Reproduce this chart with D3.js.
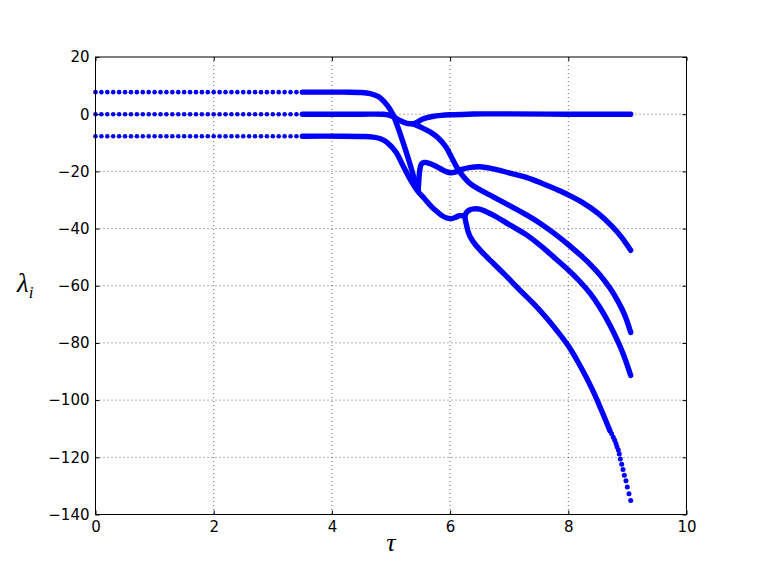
<!DOCTYPE html>
<html lang="en">
<head>
<meta charset="utf-8">
<title>Eigenvalues vs tau</title>
<script src="https://d3js.org/d3.v7.min.js"></script>
<style>
  body { margin: 0; background: #fff; }
  .axis text { font-family: "DejaVu Sans", sans-serif; font-size: 15px; fill: #000; }
  .axis line { stroke: #000; }
  .label { font-family: "Liberation Serif", "DejaVu Serif", serif; font-style: italic; fill: #000; }
</style>
</head>
<body>
<script>
var w = 763, h = 572;
var margin = {top: 57, right: 76.5, bottom: 57.5, left: 95.5};

// tick values
var xTicks = [0, 2, 4, 6, 8, 10];
var yTicks = [20, 0, -20, -40, -60, -80, -100, -120, -140];

// coarse sampling at the start (three eigenvalues, constant)
var flatTau = [0, 0.1, 0.2, 0.3, 0.4, 0.5, 0.6, 0.7, 0.8, 0.9, 1.0, 1.1, 1.2, 1.3, 1.4, 1.5, 1.6,
               1.7, 1.8, 1.9, 2.0, 2.1, 2.2, 2.3, 2.4, 2.5, 2.6, 2.7, 2.8, 2.9, 3.0, 3.1, 3.2, 3.3, 3.4];
var flatLevels = [7.7, 0, -7.7];

// fine sampling
var upperTau = [3.5, 4.2, 4.5, 4.65, 4.78, 4.88, 4.96, 5.03, 5.1, 5.2, 5.3, 5.38, 5.46];
var upperLam = [7.7, 7.7, 7.6, 7.2, 6.2, 4.5, 2.4, 0.0, -3.6, -9.6, -16.0, -21.6, -26.9];

var zeroTau = [3.5, 4.5, 4.85, 4.95, 5.05, 5.15, 5.27, 5.38];
var zeroLam = [0, 0, 0, -0.2, -1.0, -2.2, -3.2, -3.4];

var zeroBackTau = [5.38, 5.46, 5.55, 5.7, 5.85, 6.0, 6.3, 6.6, 7.0, 8.0, 9.056];
var zeroBackLam = [-3.4, -2.6, -1.6, -0.8, -0.4, -0.2, 0.0, 0.1, 0.1, 0, 0];

var lowerTau = [3.5, 4.2, 4.5, 4.7, 4.81, 4.9, 4.98, 5.04, 5.1, 5.21, 5.32, 5.46, 5.56, 5.66,
                5.75, 5.85, 5.93, 6.03, 6.1, 6.16, 6.24];
var lowerLam = [-7.7, -7.7, -7.8, -8.0, -8.5, -9.4, -10.8, -12.1, -13.8, -18.3, -22.6, -27.1, -29.4, -31.8,
                -33.6, -35.3, -36.2, -36.5, -36.0, -35.5, -35.6];

var cuspTau = [5.46, 5.47, 5.485, 5.51, 5.56, 5.65, 5.78, 5.9, 6.0, 6.1, 6.2, 6.35, 6.5, 6.75,
               7.01, 7.3, 7.58, 7.8, 8.0, 8.25, 8.5, 8.75, 8.9, 9.056];
var cuspLam = [-26.9, -23.5, -19.8, -17.6, -16.9, -17.2, -18.4, -19.8, -20.5, -20.2, -19.3, -18.6, -18.4, -19.2,
               -20.6, -22.2, -24.4, -26.3, -28.2, -31.0, -34.6, -39.4, -43.0, -47.6];

var midTau = [5.38, 5.5, 5.66, 5.8, 5.93, 6.03, 6.12, 6.2, 6.34, 6.5, 6.73, 7.0, 7.3, 7.52,
              7.75, 8.0, 8.2, 8.37, 8.54, 8.71, 8.85, 8.95, 9.056];
var midLam = [-3.4, -4.5, -6.2, -8.3, -11.5, -15.3, -18.8, -21.2, -24.3, -26.4, -28.9, -31.9, -35.3, -38.1,
              -41.5, -45.6, -49.2, -52.5, -56.3, -61.0, -65.8, -70.0, -76.3];

var loopUpTau = [6.25, 6.28, 6.33, 6.4, 6.5, 6.6, 6.73, 7.0, 7.3, 7.52, 7.75, 8.0, 8.2, 8.37,
                 8.54, 8.71, 8.85, 8.95, 9.056];
var loopUpLam = [-35.6, -34.3, -33.5, -33.1, -33.2, -34.0, -35.3, -38.6, -42.3, -45.8, -49.9, -54.5, -58.6, -62.7,
                 -67.8, -74.0, -80.0, -85.0, -91.4];

var loopDownTau = [6.25, 6.26, 6.28, 6.31, 6.36, 6.42, 6.52, 6.62, 6.9, 7.18, 7.4, 7.6, 7.8, 8.0,
                   8.2, 8.4, 8.55, 8.706];
var loopDownLam = [-35.6, -37.2, -39.0, -41.4, -43.6, -45.4, -47.8, -49.9, -55.6, -61.5, -66.0, -70.5, -75.5, -81.0,
                   -88.0, -96.0, -103.0, -110.8];

// separated dots at the steep end of the lowest branch
var tailTau = [8.734, 8.761, 8.785, 8.807, 8.824, 8.846, 8.863, 8.880, 8.904, 8.926, 8.948, 8.976, 8.998, 9.027, 9.056];
var tailLam = [-111.8, -113.0, -114.0, -115.2, -116.3, -117.4, -118.8, -120.6, -122.4, -124.3, -126.3, -128.2, -130.4, -132.7, -135.1];

var branches = [
  [upperTau, upperLam], [zeroTau, zeroLam], [zeroBackTau, zeroBackLam],
  [lowerTau, lowerLam], [cuspTau, cuspLam], [midTau, midLam],
  [loopUpTau, loopUpLam], [loopDownTau, loopDownLam]
];

var blue = "#0000ff";

var svg = d3.select("body").append("svg")
    .attr("width", w)
    .attr("height", h);

svg.append("rect")
    .attr("width", w).attr("height", h)
    .attr("fill", "#fff");

var x = d3.scaleLinear().domain([0, 10]).range([margin.left, w - margin.right]);
var y = d3.scaleLinear().domain([-140, 20]).range([h - margin.bottom, margin.top]);

var line = d3.line()
    .x(function(d) { return x(d[0]); })
    .y(function(d) { return y(d[1]); })
    .curve(d3.curveCatmullRom.alpha(0.5));

var gData = svg.append("g");

// dense part drawn as thick strokes
gData.selectAll("path.branch")
  .data(branches)
  .enter()
  .append("path")
    .attr("class", "branch")
    .attr("fill", "none")
    .attr("stroke", blue)
    .attr("stroke-width", 5.4)
    .attr("stroke-linecap", "round")
    .attr("stroke-linejoin", "round")
    .attr("d", function(b) { return line(d3.zip(b[0], b[1])); });

// coarse dots
flatLevels.forEach(function(lev) {
  gData.selectAll(null)
    .data(flatTau)
    .enter()
    .append("circle")
      .attr("cx", function(d) { return x(d); })
      .attr("cy", y(lev))
      .attr("r", 2.3)
      .attr("fill", blue);
});

gData.selectAll(null)
  .data(d3.zip(tailTau, tailLam))
  .enter()
  .append("circle")
    .attr("cx", function(d) { return x(d[0]); })
    .attr("cy", function(d) { return y(d[1]); })
    .attr("r", 2.5)
    .attr("fill", blue);

// grid (drawn over the data, like the original)
var gGrid = svg.append("g")
    .attr("stroke", "#000")
    .attr("stroke-width", 0.6)
    .attr("stroke-dasharray", "1,3");

gGrid.selectAll("line.gx")
  .data(xTicks.slice(1, -1))
  .enter()
  .append("line")
    .attr("x1", function(d) { return x(d); })
    .attr("x2", function(d) { return x(d); })
    .attr("y1", y(20))
    .attr("y2", y(-140));

gGrid.selectAll("line.gy")
  .data(yTicks.slice(1, -1))
  .enter()
  .append("line")
    .attr("x1", x(0))
    .attr("x2", x(10))
    .attr("y1", function(d) { return y(d); })
    .attr("y2", function(d) { return y(d); });

// axes, ticks pointing inwards on all four sides
function clean(g) { g.select(".domain").remove(); }

svg.append("g")
    .attr("class", "axis")
    .attr("transform", "translate(0," + y(-140) + ")")
    .call(d3.axisBottom(x).tickValues(xTicks).tickSizeInner(-4).tickSizeOuter(0).tickPadding(7).tickFormat(d3.format("d")))
    .call(clean);

svg.append("g")
    .attr("class", "axis")
    .attr("transform", "translate(0," + y(20) + ")")
    .call(d3.axisTop(x).tickValues(xTicks).tickSizeInner(-4).tickSizeOuter(0).tickFormat(""))
    .call(clean);

svg.append("g")
    .attr("class", "axis")
    .attr("transform", "translate(" + x(0) + ",0)")
    .call(d3.axisLeft(y).tickValues(yTicks).tickSizeInner(-4).tickSizeOuter(0).tickPadding(6).tickFormat(d3.format("d")))
    .call(clean);

svg.append("g")
    .attr("class", "axis")
    .attr("transform", "translate(" + x(10) + ",0)")
    .call(d3.axisRight(y).tickValues(yTicks).tickSizeInner(-4).tickSizeOuter(0).tickFormat(""))
    .call(clean);

// frame
svg.append("rect")
    .attr("x", x(0))
    .attr("y", y(20))
    .attr("width", x(10) - x(0))
    .attr("height", y(-140) - y(20))
    .attr("fill", "none")
    .attr("stroke", "#000")
    .attr("stroke-width", 1);

// axis labels
svg.append("text")
    .attr("class", "label")
    .attr("x", (x(0) + x(10)) / 2)
    .attr("y", 551)
    .attr("text-anchor", "middle")
    .attr("font-size", "26px")
    .text("τ");

var ylab = svg.append("text")
    .attr("class", "label")
    .attr("x", 17)
    .attr("y", 292)
    .attr("font-size", "27px");
ylab.append("tspan").text("λ");
ylab.append("tspan")
    .attr("font-size", "17px")
    .attr("dy", 6)
    .text("i");
</script>
</body>
</html>
